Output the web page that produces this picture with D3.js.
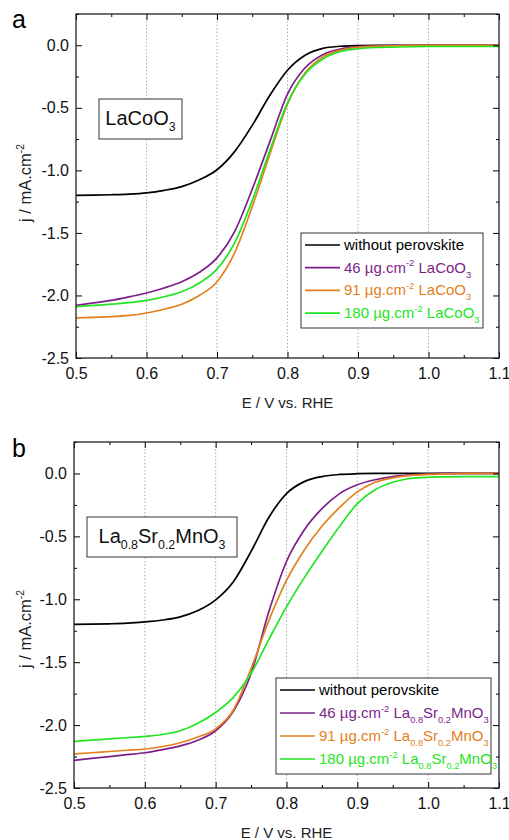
<!DOCTYPE html>
<html>
<head>
<meta charset="utf-8">
<title>ORR curves</title>
<script src="https://d3js.org/d3.v7.min.js"></script>
<style>
  body { margin: 0; background: #fff; }
  svg { font-family: "Liberation Sans", Arial, sans-serif; }
  .grid { stroke: #999; stroke-width: 0.8; stroke-dasharray: 1.5,2; }
</style>
</head>
<body>
<svg width="509" height="840"></svg>
<script>
// potential grid (V vs RHE), shared by every series
var E = [0.5, 0.525, 0.55, 0.575, 0.6, 0.625, 0.65, 0.675, 0.7, 0.725, 0.75, 0.775, 0.8,
         0.825, 0.85, 0.875, 0.9, 0.925, 0.95, 0.975, 1.0, 1.025, 1.05, 1.075, 1.1];

// panel a : LaCoO3  (j in mA/cm2)
var blackA  = [-1.20, -1.198, -1.195, -1.19, -1.18, -1.16, -1.13, -1.075, -0.995, -0.85, -0.64, -0.40, -0.20,
               -0.08, -0.025, -0.008, -0.002, 0, 0, 0, 0, 0, 0, 0, 0];
var purpleA = [-2.08, -2.06, -2.04, -2.012, -1.98, -1.94, -1.89, -1.815, -1.70, -1.49, -1.15, -0.77, -0.39,
               -0.18, -0.075, -0.03, -0.012, -0.005, 0, 0, 0, 0, 0, 0, 0];
var orangeA = [-2.18, -2.175, -2.17, -2.16, -2.14, -2.11, -2.07, -2.00, -1.89, -1.66, -1.29, -0.87, -0.47,
               -0.22, -0.095, -0.04, -0.015, -0.008, -0.004, 0, 0, 0, 0, 0, 0];
var greenA  = [-2.09, -2.08, -2.07, -2.058, -2.04, -2.01, -1.97, -1.90, -1.79, -1.58, -1.24, -0.84, -0.46,
               -0.23, -0.11, -0.05, -0.028, -0.018, -0.015, -0.012, -0.01, -0.01, -0.01, -0.01, -0.01];

// panel b : La0.8Sr0.2MnO3
var blackB  = [-1.20, -1.198, -1.195, -1.19, -1.18, -1.165, -1.14, -1.09, -1.005, -0.86, -0.62, -0.35, -0.16,
               -0.065, -0.025, -0.008, -0.002, 0, 0, 0, 0, 0, 0, 0, 0];
var purpleB = [-2.28, -2.265, -2.25, -2.235, -2.22, -2.195, -2.165, -2.12, -2.045, -1.89, -1.59, -1.10, -0.70,
               -0.45, -0.28, -0.16, -0.09, -0.05, -0.025, -0.012, -0.005, 0, 0, 0, 0];
var orangeB = [-2.23, -2.22, -2.21, -2.20, -2.19, -2.17, -2.14, -2.095, -2.03, -1.88, -1.55, -1.17, -0.85,
               -0.61, -0.42, -0.27, -0.146, -0.07, -0.035, -0.015, -0.008, -0.004, 0, 0, 0];
var greenB  = [-2.13, -2.12, -2.11, -2.10, -2.09, -2.075, -2.045, -1.985, -1.90, -1.78, -1.59, -1.32, -1.06,
               -0.83, -0.62, -0.42, -0.24, -0.13, -0.07, -0.04, -0.03, -0.027, -0.025, -0.025, -0.025];

var colors = ["#000000", "#7d1f8a", "#e3801c", "#22e522"];

var xTicks = [0.5, 0.6, 0.7, 0.8, 0.9, 1.0, 1.1];
var yTicks = [0.0, -0.5, -1.0, -1.5, -2.0, -2.5];

// label pieces: [text, "n" normal | "sup" | "sub"]
var legendA = [
  [["without perovskite", "n"]],
  [["46 µg.cm", "n"], ["-2", "sup"], [" LaCoO", "n"], ["3", "sub"]],
  [["91 µg.cm", "n"], ["-2", "sup"], [" LaCoO", "n"], ["3", "sub"]],
  [["180 µg.cm", "n"], ["-2", "sup"], [" LaCoO", "n"], ["3", "sub"]]
];
var legendB = [
  [["without perovskite", "n"]],
  [["46 µg.cm", "n"], ["-2", "sup"], [" La", "n"], ["0.8", "sub"], ["Sr", "n"], ["0.2", "sub"], ["MnO", "n"], ["3", "sub"]],
  [["91 µg.cm", "n"], ["-2", "sup"], [" La", "n"], ["0.8", "sub"], ["Sr", "n"], ["0.2", "sub"], ["MnO", "n"], ["3", "sub"]],
  [["180 µg.cm", "n"], ["-2", "sup"], [" La", "n"], ["0.8", "sub"], ["Sr", "n"], ["0.2", "sub"], ["MnO", "n"], ["3", "sub"]]
];
var insetA = [["LaCoO", "n"], ["3", "sub"]];
var insetB = [["La", "n"], ["0.8", "sub"], ["Sr", "n"], ["0.2", "sub"], ["MnO", "n"], ["3", "sub"]];

var svg = d3.select("svg");

function richText(sel, parts, size) {
  var shift = 0;
  parts.forEach(function (p) {
    var t = sel.append("tspan").text(p[0]);
    var target = 0, fs = size;
    if (p[1] == "sup") { target = -size * 0.42; fs = size * 0.62; }
    if (p[1] == "sub") { target = size * 0.32; fs = size * 0.62; }
    t.attr("dy", target - shift).style("font-size", fs + "px");
    shift = target;
  });
}

function panel(cfg) {
  var x = d3.scaleLinear().domain([0.5, 1.1]).range([cfg.left, cfg.right]);
  var y = d3.scaleLinear().domain([-2.5, 0.25]).range([cfg.bottom, cfg.top]);
  var g = svg.append("g");

  // dotted vertical grid
  g.selectAll(".grid").data([0.6, 0.7, 0.8, 0.9, 1.0]).enter().append("line")
    .attr("class", "grid")
    .attr("x1", function (d) { return x(d); }).attr("x2", function (d) { return x(d); })
    .attr("y1", cfg.top).attr("y2", cfg.bottom);

  // curves
  var line = d3.line()
    .x(function (d) { return x(d[0]); })
    .y(function (d) { return y(d[1]); })
    .curve(d3.curveMonotoneX);
  cfg.series.forEach(function (s, i) {
    g.append("path")
      .datum(E.map(function (e, k) { return [e, s[k]]; }))
      .attr("d", line)
      .attr("fill", "none")
      .attr("stroke", colors[i])
      .attr("stroke-width", 1.7);
  });

  // axes with inward ticks on all four sides
  var w = cfg.right - cfg.left, h = cfg.bottom - cfg.top;
  var xMinor = [0.55, 0.65, 0.75, 0.85, 0.95, 1.05];
  var yMinor = [0.25, -0.25, -0.75, -1.25, -1.75, -2.25];
  var fmt = function (d) { return d3.format(".1f")(d).replace("−", "-"); };

  g.append("g").attr("transform", "translate(0," + cfg.bottom + ")")
    .call(d3.axisBottom(x).tickValues(xTicks).tickSize(-6).tickPadding(10).tickFormat(fmt))
    .call(function (a) { a.select(".domain").remove(); a.selectAll("text").style("font-size", "16px").attr("fill", "#111"); });
  g.append("g").attr("transform", "translate(0," + cfg.bottom + ")")
    .call(d3.axisBottom(x).tickValues(xMinor).tickSize(-3).tickFormat(""))
    .call(function (a) { a.select(".domain").remove(); });
  g.append("g").attr("transform", "translate(0," + cfg.top + ")")
    .call(d3.axisTop(x).tickValues(xTicks).tickSize(-6).tickFormat(""))
    .call(function (a) { a.select(".domain").remove(); });
  g.append("g").attr("transform", "translate(0," + cfg.top + ")")
    .call(d3.axisTop(x).tickValues(xMinor).tickSize(-3).tickFormat(""))
    .call(function (a) { a.select(".domain").remove(); });

  g.append("g").attr("transform", "translate(" + cfg.left + ",0)")
    .call(d3.axisLeft(y).tickValues(yTicks).tickSize(-6).tickPadding(7).tickFormat(fmt))
    .call(function (a) { a.select(".domain").remove(); a.selectAll("text").style("font-size", "16px").attr("fill", "#111"); });
  g.append("g").attr("transform", "translate(" + cfg.left + ",0)")
    .call(d3.axisLeft(y).tickValues(yMinor).tickSize(-3).tickFormat(""))
    .call(function (a) { a.select(".domain").remove(); });
  g.append("g").attr("transform", "translate(" + cfg.right + ",0)")
    .call(d3.axisRight(y).tickValues(yTicks).tickSize(-6).tickFormat(""))
    .call(function (a) { a.select(".domain").remove(); });
  g.append("g").attr("transform", "translate(" + cfg.right + ",0)")
    .call(d3.axisRight(y).tickValues(yMinor).tickSize(-3).tickFormat(""))
    .call(function (a) { a.select(".domain").remove(); });

  g.append("rect").attr("x", cfg.left).attr("y", cfg.top).attr("width", w).attr("height", h)
    .attr("fill", "none").attr("stroke", "#222").attr("stroke-width", 1.3);

  // axis titles
  g.append("text").attr("x", x(0.8)).attr("y", cfg.bottom + 50)
    .attr("text-anchor", "middle").style("font-size", "15px").attr("fill", "#222")
    .text("E / V vs. RHE");
  var yt = g.append("text").attr("transform", "translate(31," + cfg.ytitle + ") rotate(-90)")
    .attr("text-anchor", "middle").style("font-size", "16.5px").attr("fill", "#222");
  richText(yt, [["j / mA.cm", "n"], ["-2", "sup"]], 16.5);

  // panel letter
  g.append("text").attr("x", 12).attr("y", cfg.letterY).style("font-size", "25px").text(cfg.letter);

  // inset label box
  g.append("rect").attr("x", cfg.inset[0]).attr("y", cfg.inset[1]).attr("width", cfg.inset[2]).attr("height", cfg.inset[3])
    .attr("fill", "#fff").attr("stroke", "#333").attr("stroke-width", 1);
  var it = g.append("text").attr("x", cfg.inset[0] + cfg.inset[2] / 2).attr("y", cfg.inset[1] + 26)
    .attr("text-anchor", "middle").style("font-size", "20px").attr("fill", "#111");
  richText(it, cfg.insetText, 20);

  // legend
  var L = cfg.legend;
  g.append("rect").attr("x", L.x).attr("y", L.y).attr("width", L.w).attr("height", L.h)
    .attr("fill", "#fff").attr("stroke", "#333").attr("stroke-width", 1);
  cfg.labels.forEach(function (parts, i) {
    var ry = L.y + L.row0 + i * L.step;
    g.append("line").attr("x1", L.x + 4).attr("x2", L.x + 39).attr("y1", ry).attr("y2", ry)
      .attr("stroke", colors[i]).attr("stroke-width", 1.7);
    var t = g.append("text").attr("x", L.x + 43).attr("y", ry + 5).attr("fill", colors[i]).style("font-size", "15px");
    richText(t, parts, 15);
  });
}

panel({
  left: 76, right: 499, top: 14, bottom: 358, letter: "a", letterY: 28, ytitle: 183,
  series: [blackA, purpleA, orangeA, greenA],
  inset: [99, 99, 83, 40], insetText: insetA,
  legend: { x: 301, y: 233, w: 182, h: 95, row0: 12, step: 22.7 }, labels: legendA
});
panel({
  left: 74, right: 499, top: 442, bottom: 788, letter: "b", letterY: 457, ytitle: 629,
  series: [blackB, purpleB, orangeB, greenB],
  inset: [87, 517, 150, 40], insetText: insetB,
  legend: { x: 276, y: 678, w: 215, h: 96, row0: 12, step: 23 }, labels: legendB
});
</script>
</body>
</html>
